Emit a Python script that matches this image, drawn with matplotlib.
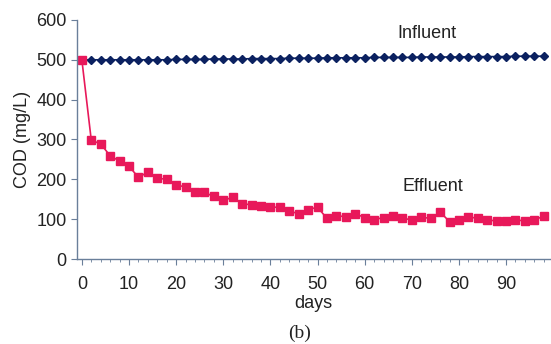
import matplotlib.pyplot as plt
from matplotlib.ticker import MultipleLocator

days = list(range(0, 100, 2))

influent = [500, 500, 500, 500, 500, 500, 500, 500, 500, 500,
            501, 501, 501, 501, 502, 502, 502, 502, 503, 503,
            503, 503, 504, 504, 504, 504, 505, 505, 505, 505,
            505, 506, 506, 506, 506, 506, 507, 507, 507, 507,
            507, 508, 508, 508, 508, 508, 509, 509, 509, 509]

effluent = [500, 298, 289, 259, 246, 233, 205, 218, 203, 200,
            187, 180, 167, 167, 157, 147, 155, 139, 136, 133,
            130, 130, 120, 114, 124, 130, 102, 109, 106, 114,
            104, 99, 104, 108, 104, 97, 105, 102, 118, 94,
            99, 106, 102, 99, 95, 95, 99, 95, 99, 107]

plt.rcParams['font.family'] = ['Liberation Sans', 'DejaVu Sans']

fig = plt.figure(figsize=(5.51, 3.44), dpi=100)
ax = fig.add_axes([0.14, 0.247, 0.858, 0.695])

ax.plot(days, influent, color='#0b2160', marker='D', markersize=4.5, lw=1.2)
ax.plot(days, effluent, color='#e8185a', marker='s', markersize=5.5, lw=1.2)

ax.set_xlim(-1, 99.3)
ax.set_ylim(0, 600)
ax.xaxis.set_major_locator(MultipleLocator(10))
ax.xaxis.set_minor_locator(MultipleLocator(2))
ax.yaxis.set_major_locator(MultipleLocator(100))
ax.set_xticks(range(0, 100, 10))

for s in ['top', 'right']:
    ax.spines[s].set_visible(False)
for s in ['left', 'bottom']:
    ax.spines[s].set_color('#6a7f9a')
    ax.spines[s].set_linewidth(1.0)
ax.tick_params(which='major', direction='out', length=4, color='#6a7f9a', labelsize=13, labelcolor='#222222')
ax.tick_params(which='minor', direction='out', length=2.5, color='#6a7f9a')
ax.tick_params(axis='x', which='major', pad=8)

ax.set_xlabel('days', fontsize=13, color='#222222', labelpad=2)
ax.set_ylabel('COD (mg/L)', fontsize=13, color='#222222', labelpad=4)

ax.text(73.3, 566, 'Influent', fontsize=13, ha='center', va='center', color='#222222')
ax.text(74.4, 183, 'Effluent', fontsize=13, ha='center', va='center', color='#222222')

fig.text(0.543, 0.03, '(b)', fontsize=14, ha='center', va='center',
         family='Liberation Serif', color='#222222')

plt.savefig('out.png', dpi=100)
